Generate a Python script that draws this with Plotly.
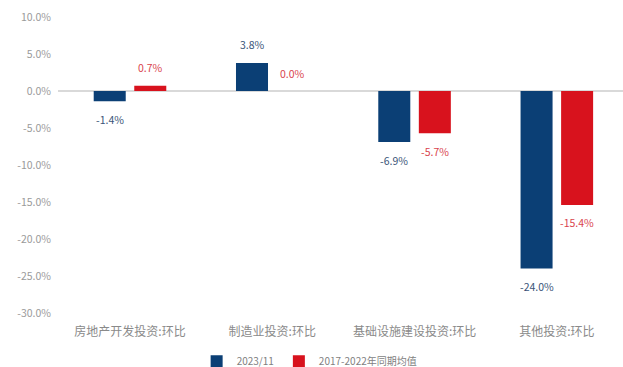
import plotly.graph_objects as go

categories = ["房地产开发投资:环比", "制造业投资:环比", "基础设施建设投资:环比", "其他投资:环比"]
series_names = ["2023/11", "2017-2022年同期均值"]
values_2023 = [-1.4, 3.8, -6.9, -24.0]
values_avg = [0.7, 0.0, -5.7, -15.4]
y_ticks = [10, 5, 0, -5, -10, -15, -20, -25, -30]

BLUE = "#0b3f75"
RED = "#d8121d"
BLUE_TXT = "#3a5478"
RED_TXT = "#d9434d"
FONT = "Noto Sans CJK SC, Noto Sans, sans-serif"

pos = list(range(len(categories)))
w = 0.225
offsets = [-0.255, 0.03]

fig = go.Figure()
for name, vals, color, off in [
    (series_names[0], values_2023, BLUE, offsets[0]),
    (series_names[1], values_avg, RED, offsets[1]),
]:
    fig.add_trace(go.Bar(
        x=pos, y=vals, name=name, width=w, offset=off,
        marker=dict(color=color, line=dict(width=0)),
    ))

# value labels, placed a little away from the bar ends
for vals, off, tcolor in [
    (values_2023, offsets[0], BLUE_TXT),
    (values_avg, offsets[1], RED_TXT),
]:
    for p, v in zip(pos, vals):
        fig.add_annotation(
            x=p + off + w / 2, y=v, text=f"{v:.1f}%",
            showarrow=False, xanchor="center", yanchor="middle",
            yshift=18 if v >= 0 else -18,
            font=dict(size=10.5, color=tcolor, family=FONT),
        )

fig.update_layout(
    width=623, height=367,
    margin=dict(l=58, r=0, t=17, b=54),
    paper_bgcolor="white", plot_bgcolor="white",
    barmode="overlay",
    font=dict(family=FONT, color="#7f7f7f", size=10),
    showlegend=True,
    legend=dict(
        orientation="h", xref="container", yref="container",
        x=0.497, xanchor="center", y=0.016, yanchor="middle",
        font=dict(size=10, color="#7f7f7f", family=FONT),
        itemwidth=30, tracegroupgap=0,
    ),
    xaxis=dict(
        range=[-0.506, 3.465], tickmode="array", tickvals=pos, ticktext=categories,
        showgrid=False, showline=False, ticks="", zeroline=False,
        tickfont=dict(size=12, color="#8a8a8a", family=FONT),
        ticklabelstandoff=10,
    ),
    yaxis=dict(
        range=[-30, 10], tickmode="array", tickvals=y_ticks,
        ticktext=[f"{t:.1f}%" for t in y_ticks],
        showgrid=False, showline=False, ticks="",
        zeroline=True, zerolinecolor="#d9d9d9", zerolinewidth=1.5,
        tickfont=dict(size=10.5, color="#9a9a9a", family=FONT),
        ticklabelstandoff=6,
    ),
)

fig.write_html("out.html")
